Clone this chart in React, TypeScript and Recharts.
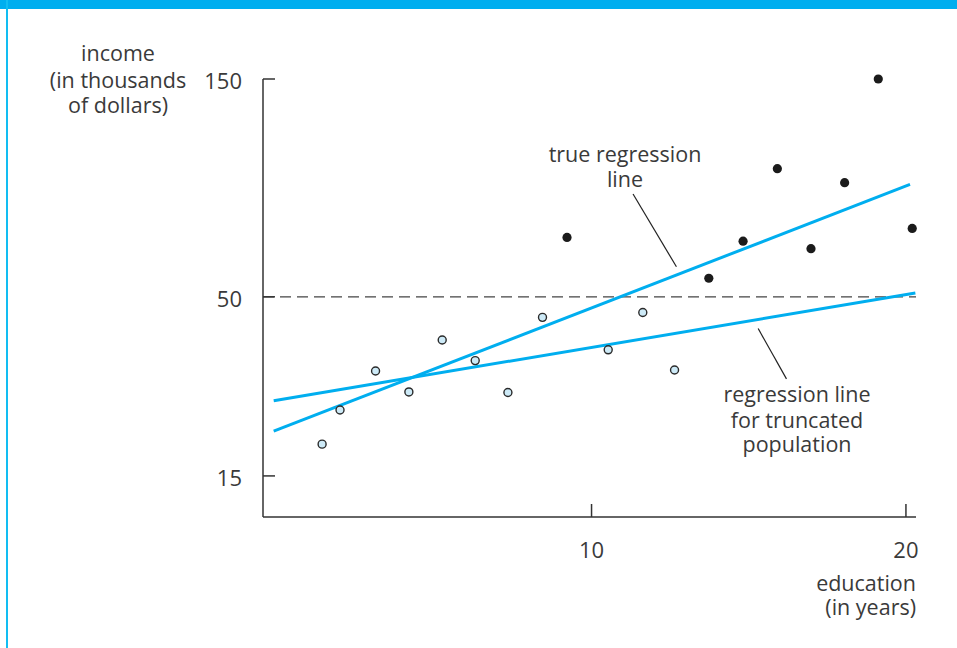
import { ComposedChart, XAxis, YAxis, Line, Scatter, ReferenceLine } from 'recharts';

// education in years, income in thousands of dollars
const lowEducation = [1.43, 2.0, 3.13, 4.19, 5.25, 6.3, 7.34, 8.44, 10.53, 11.63, 12.64];
const lowIncome = [19.1, 24.4, 31.7, 27.6, 38.6, 33.9, 27.5, 44.3, 36.3, 45.6, 31.9];

const highEducation = [9.22, 13.73, 14.82, 15.91, 16.98, 18.05, 19.12, 20.2];
const highIncome = [69.6, 55.6, 68.2, 98.9, 65.5, 92.3, 150, 73.0];

const trueLineEducation = [-0.11, 20.13];
const trueLineIncome = [21.0, 91.5];

const truncLineEducation = [-0.11, 20.3];
const truncLineIncome = [26.0, 51.1];

const trueLeaderEducation = [11.32, 12.7];
const trueLeaderIncome = [87.2, 59.3];
const truncLeaderEducation = [15.3, 16.2];
const truncLeaderIncome = [41.4, 30.1];

const incomeTicks = [15, 50, 150];
const educationTicks = [10, 20];
const cutoffIncome = 50;

// the vertical axis of the figure is compressed, roughly a fourth-root scale
const toAxis = (income: number) => Math.pow(income, 0.25);
const fromAxis = (v: number) => Math.round(Math.pow(v, 4));

const rows = (xs: number[], ys: number[]) => xs.map((x, i) => ({ x, y: toAxis(ys[i]) }));

const lowData = rows(lowEducation, lowIncome);
const highData = rows(highEducation, highIncome);
const trueLine = rows(trueLineEducation, trueLineIncome);
const truncLine = rows(truncLineEducation, truncLineIncome);
const trueLeader = rows(trueLeaderEducation, trueLeaderIncome);
const truncLeader = rows(truncLeaderEducation, truncLeaderIncome);

const FONT = "'Open Sans', 'Noto Sans', sans-serif";
const INK = '#3a3a3a';
const BLUE = '#00aeef';

const OpenDot = (props: any) => (
  <circle cx={props.cx} cy={props.cy} r={4} fill="#cdeaf7" stroke="#2a2a2a" strokeWidth={1.4} />
);
const SolidDot = (props: any) => <circle cx={props.cx} cy={props.cy} r={4.6} fill="#1b1b1b" />;

export default function App() {
  const tickStyle = { fill: INK, fontSize: 22, fontFamily: FONT };
  return (
    <div style={{ position: 'absolute', left: 0, top: 0, width: 957, height: 648, background: '#fff', overflow: 'hidden' }}>
      {/* frame */}
      <div style={{ position: 'absolute', left: 0, top: 0, width: 957, height: 9, background: BLUE }} />
      <div style={{ position: 'absolute', left: 6, top: 0, width: 2, height: 648, background: '#12bdf2' }} />

      <ComposedChart width={957} height={648} margin={{ top: 79, right: 41, bottom: 91, left: 203 }}>
        <XAxis
          type="number"
          dataKey="x"
          domain={[-0.45, 20.32]}
          ticks={educationTicks}
          height={40}
          tickSize={-13}
          tickMargin={38}
          stroke="#333"
          strokeWidth={1.5}
          tick={tickStyle}
        />
        <YAxis
          type="number"
          dataKey="y"
          domain={[toAxis(10.72), toAxis(150)]}
          ticks={incomeTicks.map(toAxis)}
          tickFormatter={(v: number) => String(fromAxis(v))}
          width={60}
          tickSize={-12}
          tickMargin={33}
          stroke="#333"
          strokeWidth={1.5}
          tick={{ ...tickStyle, dy: 2 }}
        />
        <ReferenceLine y={toAxis(cutoffIncome)} stroke="#444" strokeWidth={1.3} strokeDasharray="11 6" />
        <ReferenceLine segment={[trueLeader[0], trueLeader[1]]} stroke="#222" strokeWidth={1.2} />
        <ReferenceLine segment={[truncLeader[0], truncLeader[1]]} stroke="#222" strokeWidth={1.2} />
        <Line data={trueLine} dataKey="y" stroke={BLUE} strokeWidth={3} dot={false} isAnimationActive={false} />
        <Line data={truncLine} dataKey="y" stroke={BLUE} strokeWidth={3} dot={false} isAnimationActive={false} />
        <Scatter data={lowData} dataKey="y" shape={OpenDot} isAnimationActive={false} />
        <Scatter data={highData} dataKey="y" shape={SolidDot} isAnimationActive={false} />
      </ComposedChart>

      {/* annotations */}
      <svg width={957} height={648} style={{ position: 'absolute', left: 0, top: 0, pointerEvents: 'none' }}>
        <g fontFamily={FONT} fontSize={21.5} fill={INK}>
          <text x={118} y={61} textAnchor="middle">income</text>
          <text x={118} y={88} textAnchor="middle">(in thousands</text>
          <text x={118} y={113} textAnchor="middle">of dollars)</text>

          <text x={625} y={162} textAnchor="middle">true regression</text>
          <text x={625} y={187} textAnchor="middle">line</text>

          <text x={797} y={402} textAnchor="middle">regression line</text>
          <text x={797} y={428} textAnchor="middle">for truncated</text>
          <text x={797} y={452} textAnchor="middle">population</text>

          <text x={916} y={591} textAnchor="end">education</text>
          <text x={916} y={615} textAnchor="end">(in years)</text>
        </g>
      </svg>
    </div>
  );
}
